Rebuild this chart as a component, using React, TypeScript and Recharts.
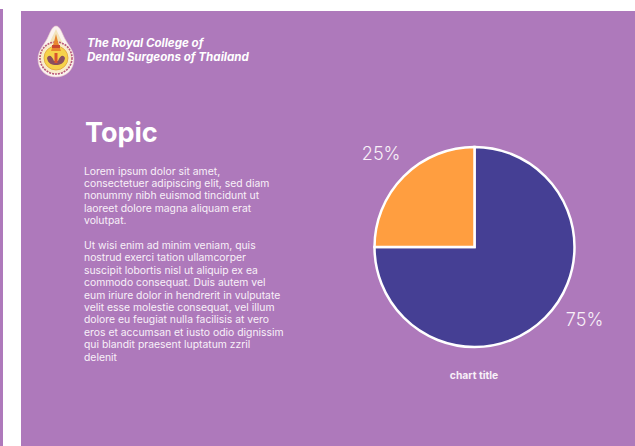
import { Pie, PieChart, Cell } from "recharts"

const sliceNames = ["Main", "Other"]
const sliceValues = [75, 25]
const sliceColors = ["#453F94", "#FF9E40"]

const headerLines = ["The Royal College of", "Dental Surgeons of Thailand"]
const paragraphOne = [
  "Lorem ipsum dolor sit amet,",
  "consectetuer adipiscing elit, sed diam",
  "nonummy nibh euismod tincidunt ut",
  "laoreet dolore magna aliquam erat",
  "volutpat.",
]
const paragraphTwo = [
  "Ut wisi enim ad minim veniam, quis",
  "nostrud exerci tation ullamcorper",
  "suscipit lobortis nisl ut aliquip ex ea",
  "commodo consequat. Duis autem vel",
  "eum iriure dolor in hendrerit in vulputate",
  "velit esse molestie consequat, vel illum",
  "dolore eu feugiat nulla facilisis at vero",
  "eros et accumsan et iusto odio dignissim",
  "qui blandit praesent luptatum zzril",
  "delenit",
]

const chartData = sliceNames.map((name, i) => ({ name, value: sliceValues[i] }))

const PURPLE = "#AE79BB"
const FONT = "Inter, sans-serif"

function Logo() {
  return (
    <svg width={38} height={53} viewBox="0 0 38 53" style={{ position: "absolute", left: 37, top: 25 }}>
      {/* seal */}
      <path d="M19 1 C23 1 25 8 28 14 C32 21 37 26 37 34 C37 45 29 52 19 52 C9 52 1 45 1 34 C1 26 6 21 10 14 C13 8 15 1 19 1 Z" fill="#FBF3F0" stroke="#E8C4C8" strokeWidth={0.6} />
      <path d="M19 4 L26 19 L12 19 Z" fill="#F3E4BC" />
      <circle cx={19} cy={33} r={16} fill="#F8EBCB" stroke="#B9587A" strokeWidth={1.6} strokeDasharray="2 1" />
      <circle cx={19} cy={33} r={12} fill="#F6D24A" stroke="#E2A23C" strokeWidth={0.8} />
      <path d="M19 9 L21 17 L24 26 L14 26 L17 17 Z" fill="#E8862E" />
      <rect x={15} y={20} width={8} height={3} fill="#C9472E" />
      <path d="M10 33 C12 29 15 31 17 36 L21 36 C23 31 26 29 28 33 C27 39 23 40 19 40 C15 40 11 39 10 33 Z" fill="#8A4F5E" />
      <rect x={17.5} y={28} width={3} height={10} fill="#D9532E" />
    </svg>
  )
}

function renderLabel({ cx, cy, midAngle, outerRadius, percent, index }: any) {
  // the larger slice has its label pulled up the rim
  const angle = ((index === 0 ? -33.5 : midAngle) * Math.PI) / 180
  const r = outerRadius + 32
  return (
    <text
      x={cx + r * Math.cos(angle)}
      y={cy - r * Math.sin(angle)}
      fill="#F8F0F8"
      fontFamily={FONT}
      fontSize={18}
      fontWeight={300}
      textAnchor="middle"
      dominantBaseline="central"
    >
      {`${Math.round(percent * 100)}%`}
    </text>
  )
}

export default function App() {
  return (
    <div style={{ position: "fixed", left: 0, top: 0, width: 635, height: 446, background: "#fff", overflow: "hidden", fontFamily: FONT }}>
      <div style={{ position: "absolute", left: 0, top: 9, width: 3, height: 437, background: PURPLE }} />
      <div style={{ position: "absolute", left: 21, top: 11, width: 614, height: 435, background: PURPLE }} />

      <Logo />

      <div style={{ position: "absolute", left: 87, top: 36, color: "#fff", fontSize: 11.6, lineHeight: "14px", fontWeight: 700, fontStyle: "italic", whiteSpace: "nowrap" }}>
        {headerLines.map((line) => (
          <div key={line}>{line}</div>
        ))}
      </div>

      <div style={{ position: "absolute", left: 85, top: 116, color: "#fff", fontSize: 27, lineHeight: "34px", fontWeight: 700 }}>Topic</div>

      <div style={{ position: "absolute", left: 84, top: 165.5, color: "#F8F0F8", fontSize: 10.38, lineHeight: "12.4px", whiteSpace: "nowrap" }}>
        {paragraphOne.map((line) => (
          <div key={line}>{line}</div>
        ))}
        <div style={{ height: 12.4 }} />
        {paragraphTwo.map((line) => (
          <div key={line}>{line}</div>
        ))}
      </div>

      <div style={{ position: "absolute", left: 0, top: 0 }}>
        <PieChart width={635} height={446} margin={{ top: 0, right: 0, bottom: 0, left: 0 }}>
          <Pie
            data={chartData}
            dataKey="value"
            nameKey="name"
            cx={474.5}
            cy={247}
            outerRadius={100}
            startAngle={90}
            endAngle={-270}
            stroke="#fff"
            strokeWidth={2.5}
            label={renderLabel}
            labelLine={false}
            isAnimationActive={false}
          >
            {chartData.map((d, i) => (
              <Cell key={d.name} fill={sliceColors[i]} />
            ))}
          </Pie>
        </PieChart>
      </div>

      <div style={{ position: "absolute", left: 374, width: 200, top: 369, textAlign: "center", color: "#F8F0F8", fontSize: 10.3, lineHeight: "12px", fontWeight: 700 }}>chart title</div>
    </div>
  )
}
